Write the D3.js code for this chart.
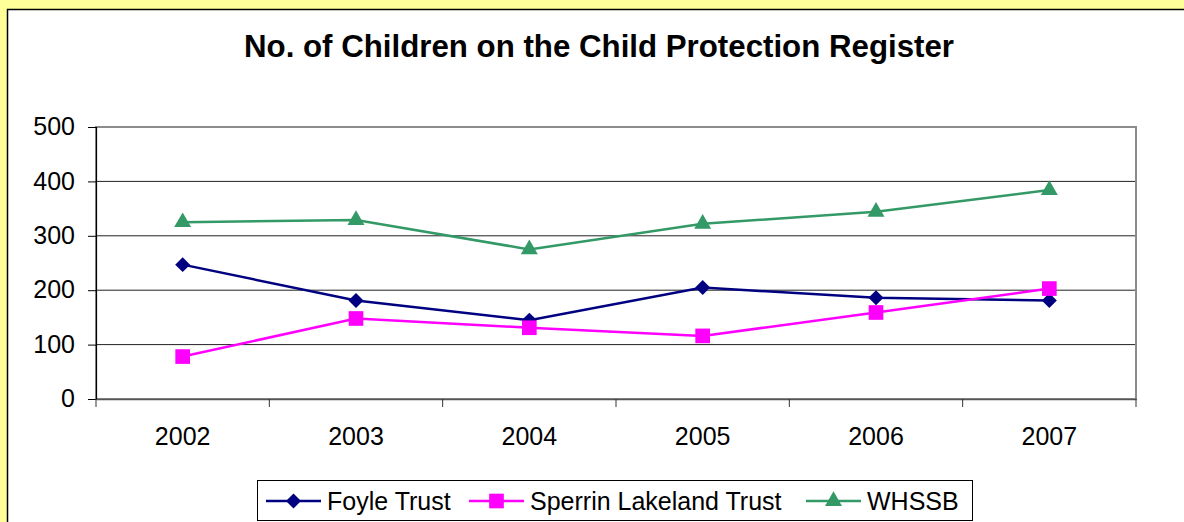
<!DOCTYPE html>
<html>
<head>
<meta charset="utf-8">
<script src="https://cdn.jsdelivr.net/npm/d3@7"></script>
<style>
  body { margin: 0; background: #ffff99; }
  svg { display: block; font-family: Arial, "Liberation Sans", sans-serif; }
</style>
</head>
<body>
<script>
// data
var years = ['2002', '2003', '2004', '2005', '2006', '2007'];
var foyle = [247, 181, 145, 205, 186, 181];
var sperrin = [78, 148, 131, 116, 159, 203];
var whssb = [325, 329, 275, 322, 344, 384];
var yTicks = [0, 100, 200, 300, 400, 500];
var seriesNames = ['Foyle Trust', 'Sperrin Lakeland Trust', 'WHSSB'];

var width = 1184, height = 522;
var plot = {'left': 96, 'top': 127, 'right': 1136, 'bottom': 399};

var svg = d3.select('body').append('svg')
    .attr('width', width)
    .attr('height', height);

// background + chart area
svg.append('rect')
    .attr('x', 0).attr('y', 0)
    .attr('width', width).attr('height', height)
    .attr('fill', '#ffff99');
svg.append('rect')
    .attr('x', 7.5).attr('y', 9.5)
    .attr('width', width + 20).attr('height', height + 20)
    .attr('fill', '#fff')
    .attr('stroke', '#000')
    .attr('stroke-width', 1.5);

svg.append('text')
    .attr('x', 599).attr('y', 57)
    .attr('text-anchor', 'middle')
    .attr('font-size', 32)
    .attr('font-weight', 'bold')
    .attr('textLength', 710)
    .attr('lengthAdjust', 'spacingAndGlyphs')
    .text('No. of Children on the Child Protection Register');

var x = d3.scaleBand().domain(years).range([plot.left, plot.right]);
var y = d3.scaleLinear().domain([0, 500]).range([plot.bottom, plot.top]);
function cx(d) { return x(d) + x.bandwidth() / 2; }

// grid lines
svg.append('g').selectAll('line')
    .data(yTicks.filter(function(t) { return t > 0 && t < 500; }))
    .enter().append('line')
    .attr('x1', plot.left).attr('x2', plot.right)
    .attr('y1', function(d) { return y(d); })
    .attr('y2', function(d) { return y(d); })
    .attr('stroke', '#222')
    .attr('stroke-width', 1);

// plot frame (top / right grey)
svg.append('rect')
    .attr('x', plot.left).attr('y', plot.top)
    .attr('width', plot.right - plot.left)
    .attr('height', plot.bottom - plot.top)
    .attr('fill', 'none')
    .attr('stroke', '#8c8c8c')
    .attr('stroke-width', 2);

// y axis
var yAxis = svg.append('g')
    .attr('transform', 'translate(' + plot.left + ',0)')
    .call(d3.axisLeft(y).tickValues(yTicks).tickSize(8).tickPadding(13));
yAxis.select('.domain').attr('stroke', '#000').attr('stroke-width', 1.2);
yAxis.selectAll('.tick line').attr('stroke', '#000');
yAxis.selectAll('.tick text')
    .attr('font-size', 25)
    .attr('font-family', 'Arial, "Liberation Sans", sans-serif')
    .attr('fill', '#000')
    .attr('dy', '0.31em');

// x axis
var xAxis = svg.append('g')
    .attr('transform', 'translate(0,' + plot.bottom + ')')
    .call(d3.axisBottom(x).tickSize(0).tickPadding(28));
xAxis.select('.domain').attr('stroke', '#555').attr('stroke-width', 1.5);
xAxis.selectAll('.tick text')
    .attr('font-size', 25)
    .attr('font-family', 'Arial, "Liberation Sans", sans-serif')
    .attr('fill', '#000');
// tick marks between categories
xAxis.append('g').selectAll('line')
    .data(years.concat(['end']))
    .enter().append('line')
    .attr('x1', function(d, i) { return plot.left + i * x.bandwidth(); })
    .attr('x2', function(d, i) { return plot.left + i * x.bandwidth(); })
    .attr('y1', 0).attr('y2', 8)
    .attr('stroke', '#333');

// series (diamond = square turned 45deg)
var series = [
    {'name': seriesNames[0], 'values': foyle, 'color': '#000080', 'symbol': d3.symbolSquare, 'size': 112, 'rotate': 45},
    {'name': seriesNames[1], 'values': sperrin, 'color': '#ff00ff', 'symbol': d3.symbolSquare, 'size': 215, 'rotate': 0},
    {'name': seriesNames[2], 'values': whssb, 'color': '#339966', 'symbol': d3.symbolTriangle, 'size': 125, 'rotate': 0}
];

var line = d3.line()
    .x(function(d, i) { return cx(years[i]); })
    .y(function(d) { return y(d); });

series.forEach(function(s) {
    var g = svg.append('g');
    g.append('path')
        .attr('d', line(s.values))
        .attr('fill', 'none')
        .attr('stroke', s.color)
        .attr('stroke-width', 2.5);
    g.selectAll('path.marker')
        .data(s.values)
        .enter().append('path')
        .attr('class', 'marker')
        .attr('d', d3.symbol().type(s.symbol).size(s.size))
        .attr('transform', function(d, i) {
            return 'translate(' + cx(years[i]) + ',' + y(d) + ') rotate(' + s.rotate + ')';
        })
        .attr('fill', s.color);
});

// legend
svg.append('rect')
    .attr('x', 257.5).attr('y', 480.5)
    .attr('width', 715).attr('height', 40)
    .attr('fill', '#fff')
    .attr('stroke', '#000')
    .attr('stroke-width', 1);

var legendX = [266, 469, 806];
series.forEach(function(s, i) {
    var lg = svg.append('g').attr('transform', 'translate(' + legendX[i] + ',501)');
    lg.append('line')
        .attr('x1', 0).attr('x2', 55)
        .attr('y1', 0).attr('y2', 0)
        .attr('stroke', s.color)
        .attr('stroke-width', 2.5);
    lg.append('path')
        .attr('d', d3.symbol().type(s.symbol).size(s.size))
        .attr('transform', 'translate(27.5,0) rotate(' + s.rotate + ')')
        .attr('fill', s.color);
    lg.append('text')
        .attr('x', 61).attr('y', 8.5)
        .attr('font-size', 25)
        .text(s.name);
});
</script>
</body>
</html>
